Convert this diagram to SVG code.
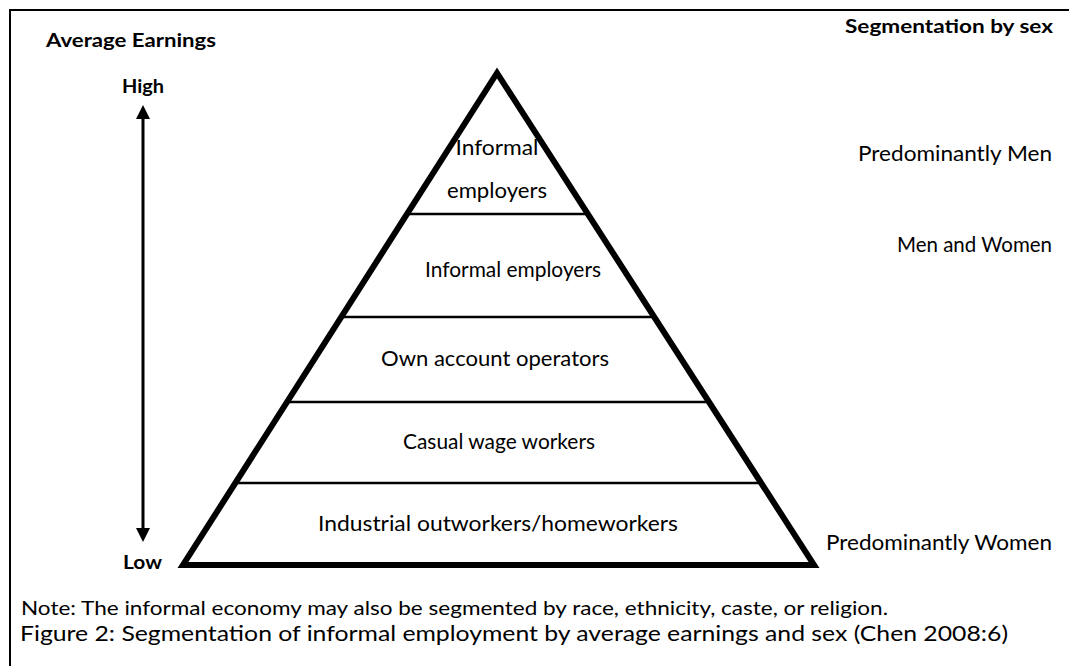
<svg xmlns="http://www.w3.org/2000/svg" width="1069" height="666" viewBox="0 0 1069 666">
  <style>
    text { font-family: Lato, "Open Sans", "Liberation Sans", sans-serif; fill: #000; }
    .hdr { font-size: 18px; font-weight: bold; }
    .tier { font-size: 21px; text-anchor: middle; }
    .side { font-size: 21px; text-anchor: end; }
    .note { font-size: 19px; }
    .cap { font-size: 22px; }
    .edge { fill: none; stroke: #000; stroke-width: 6; stroke-linejoin: miter; }
    .rule { stroke: #000; stroke-width: 2.5; }
    .frame { fill: none; stroke: #000; stroke-width: 2; }
  </style>
  <defs>
    <marker id="head" viewBox="0 0 14 14" refX="2" refY="7" markerWidth="14" markerHeight="14" markerUnits="userSpaceOnUse" orient="auto-start-reverse">
      <path d="M0,0 L14,7 L0,14 Z" fill="#000"/>
    </marker>
  </defs>

  <rect width="1069" height="666" fill="#fff"/>
  <path class="frame" d="M10,666 V10 H1069"/>

  <!-- axis headings -->
  <g id="heading-earnings">
    <text class="hdr" x="46" y="47" textLength="170" lengthAdjust="spacingAndGlyphs">Average Earnings</text>
    <text class="hdr" x="122" y="93" textLength="42" lengthAdjust="spacingAndGlyphs">High</text>
    <text class="hdr" x="123" y="569" textLength="39" lengthAdjust="spacingAndGlyphs">Low</text>
  </g>
  <g id="heading-sex">
    <text class="hdr" x="845" y="33" textLength="208" lengthAdjust="spacingAndGlyphs">Segmentation by sex</text>
  </g>

  <!-- earnings scale arrow -->
  <g id="connectors">
    <line x1="143" y1="117" x2="143" y2="530" stroke="#000" stroke-width="3" marker-start="url(#head)" marker-end="url(#head)"/>
  </g>

  <!-- pyramid outline and tier dividers -->
  <g id="pyramid">
    <polygon class="edge" points="497,73 183,565 814,565"/>
    <line class="rule" x1="407" y1="214" x2="588" y2="214"/>
    <line class="rule" x1="341" y1="317" x2="654" y2="317"/>
    <line class="rule" x1="287" y1="402" x2="709" y2="402"/>
    <line class="rule" x1="235" y1="483" x2="761" y2="483"/>
  </g>

  <g id="tier-1">
    <text class="tier" x="497" y="155" textLength="83" lengthAdjust="spacingAndGlyphs">Informal</text>
    <text class="tier" x="497" y="198" textLength="100" lengthAdjust="spacingAndGlyphs">employers</text>
  </g>
  <g id="tier-2">
    <text class="tier" x="513" y="277" textLength="176" lengthAdjust="spacingAndGlyphs">Informal employers</text>
  </g>
  <g id="tier-3">
    <text class="tier" x="495" y="366" textLength="228" lengthAdjust="spacingAndGlyphs">Own account operators</text>
  </g>
  <g id="tier-4">
    <text class="tier" x="499" y="449" textLength="192" lengthAdjust="spacingAndGlyphs">Casual wage workers</text>
  </g>
  <g id="tier-5">
    <text class="tier" x="498" y="531" textLength="360" lengthAdjust="spacingAndGlyphs">Industrial outworkers/homeworkers</text>
  </g>

  <!-- segmentation by sex -->
  <g id="sex-men">
    <text class="side" x="1052" y="161" textLength="194" lengthAdjust="spacingAndGlyphs">Predominantly Men</text>
  </g>
  <g id="sex-mixed">
    <text class="side" x="1052" y="252" textLength="155" lengthAdjust="spacingAndGlyphs">Men and Women</text>
  </g>
  <g id="sex-women">
    <text class="side" x="1052" y="550" textLength="226" lengthAdjust="spacingAndGlyphs">Predominantly Women</text>
  </g>

  <!-- footnote and caption -->
  <g id="footnote">
    <text class="note" x="21" y="615" textLength="867" lengthAdjust="spacingAndGlyphs">Note: The informal economy may also be segmented by race, ethnicity, caste, or religion.</text>
  </g>
  <g id="caption">
    <text class="cap" x="20" y="641" textLength="988" lengthAdjust="spacingAndGlyphs">Figure 2: Segmentation of informal employment by average earnings and sex (Chen 2008:6)</text>
  </g>
</svg>
